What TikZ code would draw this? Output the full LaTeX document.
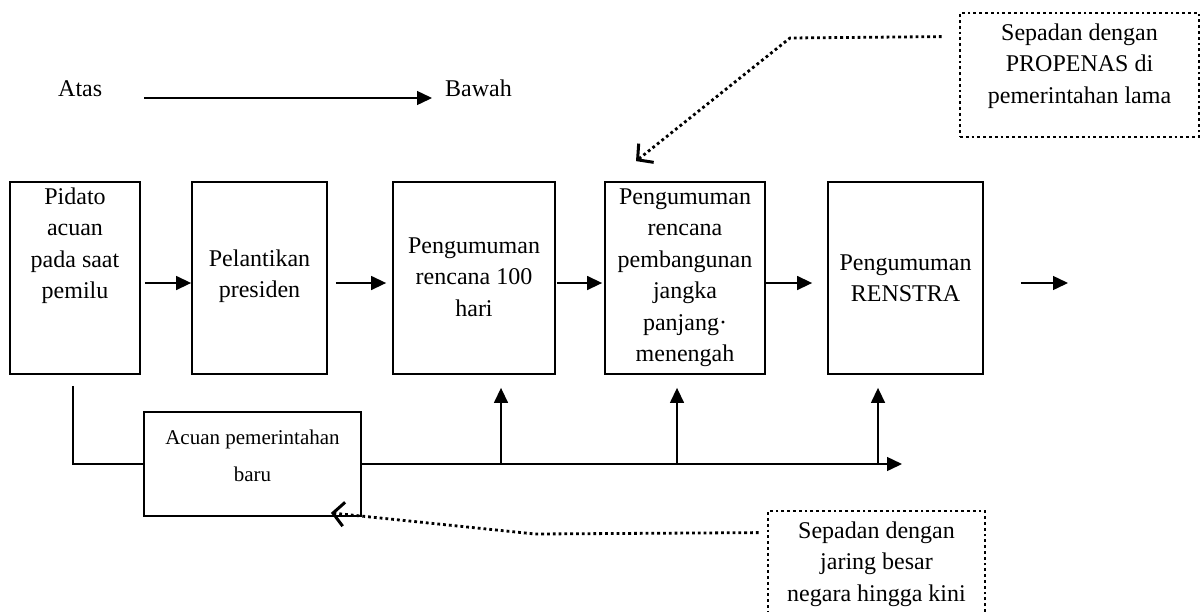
\documentclass[tikz,border=0pt]{standalone}
\usepackage{fontspec}
\setmainfont{Liberation Serif}
\usetikzlibrary{arrows.meta,calc}
\newcommand\bxtext[4]{\begin{minipage}[c][#2][t]{#1}\centering\vspace*{#3}\strut #4\end{minipage}}
\begin{document}
\begin{tikzpicture}[x=1pt,y=-1pt,
  box/.style={draw, line width=1.8pt, inner sep=0pt, font=\fontsize{24}{31.5}\selectfont},
  smallbox/.style={box, font=\fontsize{21}{37}\selectfont},
  dotbox/.style={draw, dotline, inner sep=0pt, font=\fontsize{24}{31.5}\selectfont},
  lbl/.style={font=\fontsize{24}{31.5}\selectfont, inner sep=0pt, anchor=base west},
  conn/.style={line width=1.4pt},
  arr/.style={conn, -{Triangle[length=15pt,width=14pt]}},
  dotline/.style={line width=2.8pt, dash pattern=on 2.8pt off 3pt},
  barb/.style={dotline, -{Straight Barb[length=11pt,width=24pt,line width=3pt]}}
]
\useasboundingbox (0,0) rectangle (1201,611);
\clip (0,0) rectangle (1201,611);

% legend
\node[lbl] (atas) at (58,96) {Atas};
\node[lbl] (bawah) at (445,96) {Bawah};
\coordinate (ab1) at (144,98);
\coordinate (ab2) at (432,98);
\draw[arr] (ab1) -- (ab2);

% main boxes
\node[box] (b1) at (75,278) {\bxtext{130pt}{192pt}{0pt}{Pidato\\acuan\\pada saat\\pemilu}};
\node[box] (b2) at (259.5,278) {\bxtext{135pt}{192pt}{62pt}{Pelantikan\\presiden}};
\node[box] (b3) at (474,278) {\bxtext{162pt}{192pt}{49pt}{Pengumuman\\rencana 100\\hari}};
\node[box] (b4) at (685,278) {\bxtext{160pt}{192pt}{0pt}{Pengumuman\\rencana\\pembangunan\\jangka\\panjang·\\menengah}};
\node[box] (b5) at (905.5,278) {\bxtext{155pt}{192pt}{66pt}{Pengumuman\\RENSTRA}};
\node[smallbox] (b6) at (252.5,464) {\bxtext{217pt}{104pt}{7pt}{Acuan pemerintahan\\baru}};

% note boxes
\node[dotbox] (tb) at (1079.5,75) {\bxtext{239pt}{124pt}{5pt}{Sepadan dengan\\PROPENAS di\\pemerintahan lama}};
\node[dotbox] (bb) at (876.5,580.5) {\bxtext{217pt}{139pt}{5pt}{Sepadan dengan\\jaring besar\\negara hingga kini}};

% row arrows
\coordinate (row) at (0,283);
\draw[arr] ($(b1.east |- row)+(4,0)$) -- (b2.west |- row);
\draw[arr] ($(b2.east |- row)+(8,0)$) -- ($(b3.west |- row)+(-6,0)$);
\draw[arr] ($(b3.east |- row)+(1,0)$) -- ($(b4.west |- row)+(-2,0)$);
\draw[arr] (b4.east |- row) -- ($(b5.west |- row)+(-15,0)$);
\coordinate (out) at (1068,283);
\draw[arr] ($(b5.east |- row)+(37,0)$) -- (out);

% bus line
\draw[conn] ($(b1.south)+(-2,11)$) |- (b6.west);
\coordinate (busend) at (902,464);
\draw[arr] (b6.east) -- (busend);
\coordinate (j1) at (501,464);
\coordinate (j2) at (677,464);
\coordinate (j3) at (878,464);
\draw[arr] (j1) -- ($(b3.south)+(27,13)$);
\draw[arr] (j2) -- ($(b4.south)+(-8,13)$);
\draw[arr] (j3) -- ($(b5.south)+(-27.5,13)$);

% dotted pointers
\coordinate (c1) at (790,38);
\draw[barb] ($(tb.north west)+(-17,25)$) -- (c1) -- ($(b4.north)+(-49,-20)$);
\coordinate (c2) at (535,534);
\draw[barb] ($(bb.north west)+(-8,23)$) -- (c2) -- ($(b6.south east)+(-31,-4)$);
\end{tikzpicture}
\end{document}
